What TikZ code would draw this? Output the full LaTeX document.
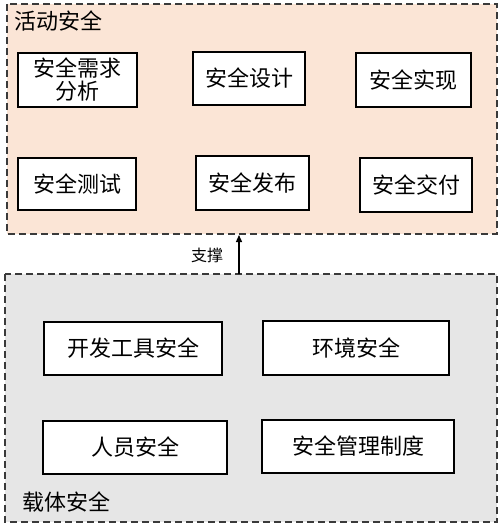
\documentclass[tikz,border=0pt]{standalone}
\usepackage{fontspec}
\setmainfont{Noto Sans CJK SC}
\usetikzlibrary{arrows.meta}
\definecolor{peach}{HTML}{FBE5D6}
\definecolor{grayfill}{HTML}{E6E6E6}
\definecolor{dashcol}{HTML}{3A3A3A}
\begin{document}
\begin{tikzpicture}[x=1pt,y=-1pt,
  container/.style={draw=dashcol,line width=1.1pt,dash pattern=on 7pt off 4pt},
  itembox/.style={draw=black,line width=1.1pt,fill=white,inner sep=0pt,font=\fontsize{22}{25}\selectfont,align=center},
  title/.style={font=\fontsize{22}{25}\selectfont,anchor=west,inner sep=0pt},
]
\useasboundingbox (0,0) rectangle (500,529);
% containers
\draw[container,fill=peach] (7,4) rectangle (497,234);
\draw[container,fill=grayfill] (5,274) rectangle (497,522);
\node[title] (t1) at (14,21) {活动安全};
\node[title] (t2) at (22,502) {载体安全};
% top boxes
\node[itembox,minimum width=119pt,minimum height=54pt] (a1) at (77.5,80) {安全需求\\[-2pt]分析};
\node[itembox,minimum width=112pt,minimum height=53pt] (a2) at (249,78.5) {安全设计};
\node[itembox,minimum width=115pt,minimum height=54pt] (a3) at (413.5,80) {安全实现};
\node[itembox,minimum width=118pt,minimum height=52pt] (a4) at (77,184) {安全测试};
\node[itembox,minimum width=113pt,minimum height=54pt] (a5) at (252.5,183) {安全发布};
\node[itembox,minimum width=112pt,minimum height=54pt] (a6) at (416,185) {安全交付};
% bottom boxes
\node[itembox,minimum width=178pt,minimum height=53pt] (b1) at (133,348.5) {开发工具安全};
\node[itembox,minimum width=186pt,minimum height=54pt] (b2) at (356,348) {环境安全};
\node[itembox,minimum width=184pt,minimum height=53pt] (b3) at (135,447.5) {人员安全};
\node[itembox,minimum width=192pt,minimum height=53pt] (b4) at (358,446.5) {安全管理制度};
% arrow
\coordinate (s) at (239,274);
\coordinate (e) at (239,235);
\draw[line width=1.3pt,-{Triangle[length=7pt,width=6pt]}] (s) -- (e);
\node[font=\fontsize{16}{18}\selectfont,inner sep=0pt] (lbl) at (207,255) {支撑};
\end{tikzpicture}
\end{document}
